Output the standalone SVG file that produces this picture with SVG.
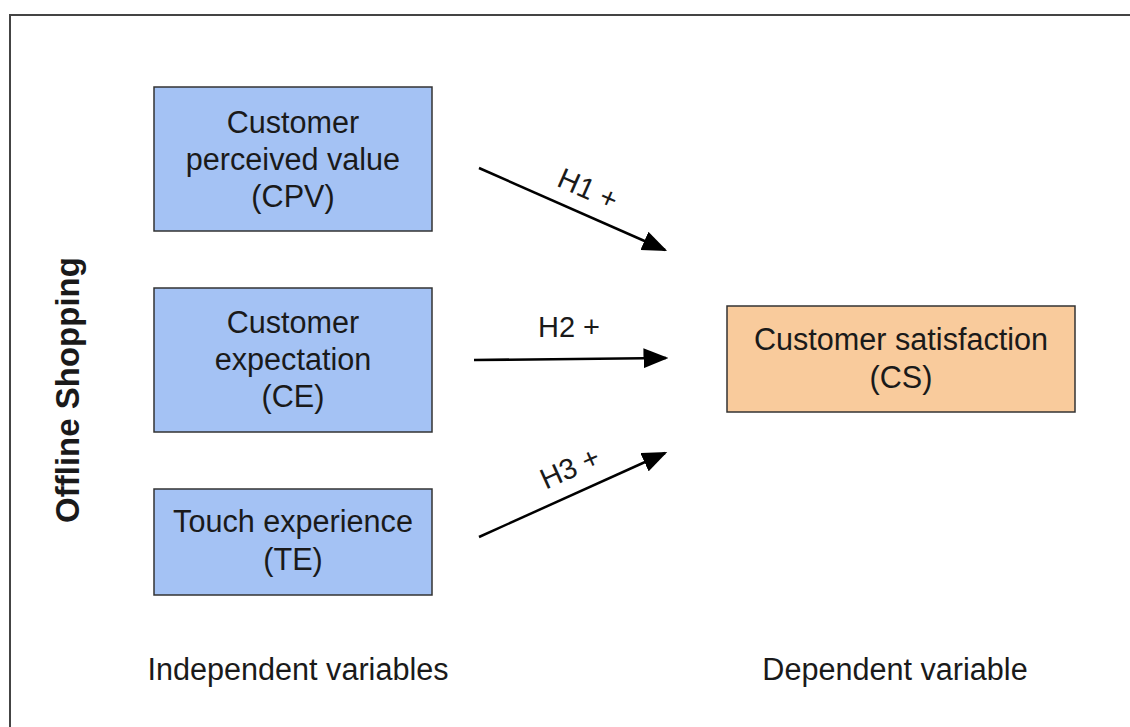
<svg xmlns="http://www.w3.org/2000/svg" width="1130" height="727" viewBox="0 0 1130 727">
<style>
.t{font-family:"Liberation Sans",Arial,sans-serif;font-size:30.6px;fill:#1a1a1a;text-anchor:middle}
.b{stroke:#333;stroke-width:1.5}
.iv{fill:#a4c2f4}
.dv{fill:#f9cb9c}
.c{stroke:#000;stroke-width:2.5;fill:none;marker-end:url(#ah)}
.h{font-size:29px}
</style>
<defs>
<marker id="ah" markerWidth="10" markerHeight="8" refX="9" refY="4" orient="auto" markerUnits="strokeWidth">
<path d="M0,0 L10,4 L0,8 Z" fill="#000"/>
</marker>
</defs>
<rect width="1130" height="727" fill="#fff"/>
<path d="M10,727 V15 H1130" fill="none" stroke="#444" stroke-width="2"/>
<g id="label-offline"><text class="t" style="font-weight:bold;font-size:33px" transform="translate(79,390) rotate(-90)">Offline Shopping</text></g>
<g id="node-cpv">
<rect class="b iv" x="154" y="87" width="278" height="144"/>
<text class="t" x="293" y="133">Customer</text>
<text class="t" x="293" y="170">perceived value</text>
<text class="t" x="293" y="207">(CPV)</text>
</g>
<g id="node-ce">
<rect class="b iv" x="154" y="288" width="278" height="144"/>
<text class="t" x="293" y="333">Customer</text>
<text class="t" x="293" y="370">expectation</text>
<text class="t" x="293" y="407">(CE)</text>
</g>
<g id="node-te">
<rect class="b iv" x="154" y="489" width="278" height="106"/>
<text class="t" x="293" y="532">Touch experience</text>
<text class="t" x="293" y="570">(TE)</text>
</g>
<g id="node-cs">
<rect class="b dv" x="727" y="306" width="348" height="106"/>
<text class="t" x="901" y="350">Customer satisfaction</text>
<text class="t" x="901" y="388">(CS)</text>
</g>
<g id="connectors">
<line class="c" x1="479" y1="168" x2="665" y2="250"/>
<line class="c" x1="474" y1="360" x2="666" y2="358"/>
<line class="c" x1="479" y1="537" x2="665" y2="453"/>
<text class="t h" transform="translate(584,198) rotate(23.8)">H1 +</text>
<text class="t h" x="569" y="337">H2 +</text>
<text class="t h" transform="translate(574,477) rotate(-24.3)">H3 +</text>
</g>
<text class="t" x="298" y="680">Independent variables</text>
<text class="t" x="895" y="680">Dependent variable</text>
</svg>
